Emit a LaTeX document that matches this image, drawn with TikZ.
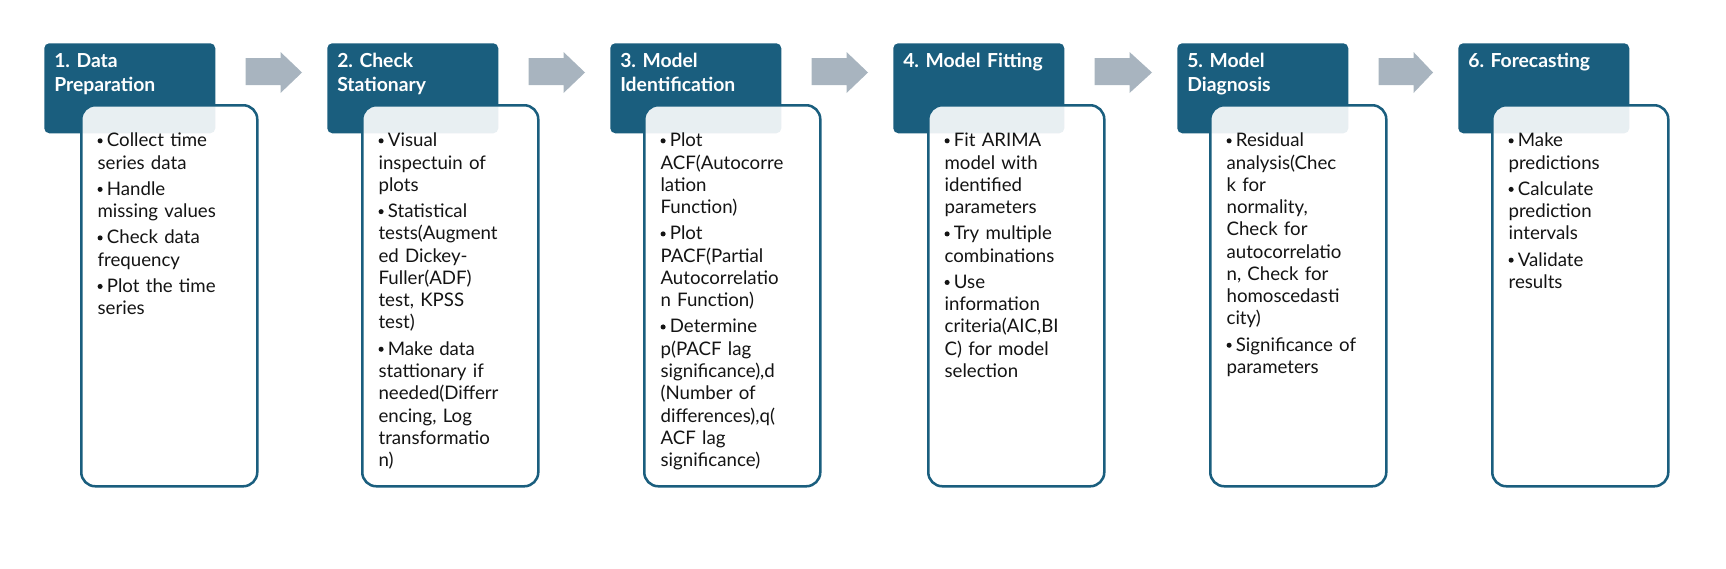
\documentclass[tikz,border=0pt]{standalone}
\usepackage{fontspec}
\setmainfont{Lato}
\usetikzlibrary{calc}
\definecolor{hdr}{HTML}{1A5E7E}
\definecolor{arr}{HTML}{A8B4BF}
\definecolor{ink}{HTML}{141414}
\newlength\bw
\setlength\bw{7pt}
\newcommand\bdot{\tikz[baseline=0pt]\fill[ink] (1.9pt,4.5pt) circle[radius=1.9pt];}
\newcommand\bit[1]{\par\baselineskip=16.7pt\parskip=3pt\hangindent=\bw\hangafter=1\noindent\makebox[\bw][l]{\bdot}\rule{0pt}{12pt}#1}
\newcommand\hl[1]{\baselineskip=18pt\rule{0pt}{12pt}#1}
\tikzset{
  hdrbox/.style={fill=hdr, rounded corners=3.75pt, minimum width=128.25pt, minimum height=67.5pt, anchor=north west, inner sep=0pt},
  bodybox/.style={draw=hdr, line width=1.9pt, fill=white, fill opacity=0.9, rounded corners=10.5pt, minimum width=132pt, minimum height=285.75pt, anchor=north west, inner sep=0pt},
  hdrtext/.style={anchor=north west, inner sep=0pt, text width=124pt, align=left, text=white, font=\fontsize{14.5pt}{18pt}\selectfont\bfseries\frenchspacing},
  bodytext/.style={anchor=north west, inner sep=0pt, text width=118pt, align=left, text=ink, font=\fontsize{14pt}{16.7pt}\selectfont\frenchspacing},
  blockarrow/.style={fill=arr}
}
\begin{document}
\begin{tikzpicture}[x=0.75pt,y=-0.75pt]
\useasboundingbox (0,0) rectangle (1726,568);
% headers
\node[hdrbox] (h1) at (44,43) {};
\node[hdrbox] (h2) at (327,43) {};
\node[hdrbox] (h3) at (610,43) {};
\node[hdrbox] (h4) at (893,43) {};
\node[hdrbox] (h5) at (1177,43) {};
\node[hdrbox] (h6) at (1458,43) {};
% body boxes
\node[bodybox] (w1) at (80,104) {};
\node[bodybox] (w2) at (361,104) {};
\node[bodybox] (w3) at (643,104) {};
\node[bodybox] (w4) at (927,104) {};
\node[bodybox] (w5) at (1209,104) {};
\node[bodybox] (w6) at (1491,104) {};
% header texts
\node[hdrtext] (ht1) at ($(h1.north west)+(10,8.7)$) {\hl{1. Data\\Preparation}};
\node[hdrtext] (ht2) at ($(h2.north west)+(10,8.7)$) {\hl{2. Check\\Stationary}};
\node[hdrtext] (ht3) at ($(h3.north west)+(10,8.7)$) {\hl{3. Model\\Identification}};
\node[hdrtext] (ht4) at ($(h4.north west)+(10,8.7)$) {\hl{4. Model Fitting}};
\node[hdrtext] (ht5) at ($(h5.north west)+(10,8.7)$) {\hl{5. Model\\Diagnosis}};
\node[hdrtext] (ht6) at ($(h6.north west)+(10,8.7)$) {\hl{6. Forecasting}};
% body texts
\node[bodytext] (bt1) at ($(w1.north west)+(17.3,16.3)$) {%
\bit{Collect time\\series data}
\bit{Handle\\missing values}
\bit{Check data\\frequency}
\bit{Plot the time\\series}};
\node[bodytext] (bt2) at ($(w2.north west)+(17.3,16.3)$) {%
\bit{Visual\\inspectuin of\\plots}
\bit{Statistical\\tests(Augment\\ed Dickey-\\Fuller(ADF)\\test, KPSS\\test)}
\bit{Make data\\stattionary if\\needed(Differr\\encing, Log\\transformatio\\n)}};
\node[bodytext] (bt3) at ($(w3.north west)+(17.3,16.3)$) {%
\bit{Plot\\ACF(Autocorre\\lation\\Function)}
\bit{Plot\\PACF(Partial\\Autocorrelatio\\n Function)}
\bit{Determine\\p(PACF lag\\significance),d\\(Number of\\differences),q(\\ACF lag\\significance)}};
\node[bodytext] (bt4) at ($(w4.north west)+(17.3,16.3)$) {%
\bit{Fit ARIMA\\model with\\identified\\parameters}
\bit{Try multiple\\combinations}
\bit{Use\\information\\criteria(AIC,BI\\C) for model\\selection}};
\node[bodytext] (bt5) at ($(w5.north west)+(17.3,16.3)$) {%
\bit{Residual\\analysis(Chec\\k for\\normality,\\Check for\\autocorrelatio\\n, Check for\\homoscedasti\\city)}
\bit{Significance of\\parameters}};
\node[bodytext] (bt6) at ($(w6.north west)+(17.3,16.3)$) {%
\bit{Make\\predictions}
\bit{Calculate\\prediction\\intervals}
\bit{Validate\\results}};
% block arrows between steps
\foreach \a/\b in {h1/h2,h2/h3,h3/h4,h4/h5,h5/h6}{
  \fill[blockarrow] ($(\a.north east)+(30,15)$) -- ($(\a.north east)+(65,15)$) -- ($(\a.north east)+(65,9)$)
    -- ($(\b.north west)+(-25,29.5)$) -- ($(\a.north east)+(65,50)$) -- ($(\a.north east)+(65,42)$)
    -- ($(\a.north east)+(30,42)$) -- cycle;
}
\end{tikzpicture}
\end{document}
